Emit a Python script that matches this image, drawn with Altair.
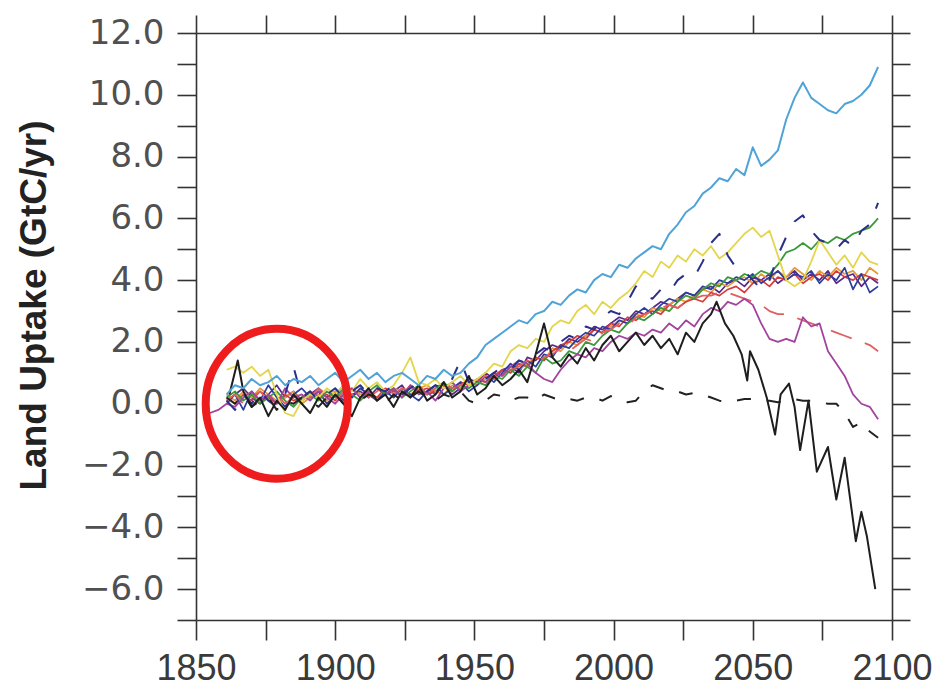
import altair as alt
import pandas as pd

# ---------------- data ----------------
GRID_YEARS = list(range(1861, 2096, 3))  # 79 sample points, 3-year spacing

LIGHT_BLUE = [0.3, 0.6, 0.5, 0.8, 0.6, 0.7, 0.9, 0.6, 0.8, 0.7,
              0.9, 0.6, 0.8, 1.0, 0.7, 0.9, 1.1, 0.8, 1.0, 0.7,
              0.9, 1.0, 0.8, 0.6, 0.9, 0.8, 1.1, 0.9, 1.0, 1.3,
              1.5, 1.9, 2.1, 2.3, 2.5, 2.7, 2.6, 2.9, 3.0, 3.3,
              3.2, 3.5, 3.7, 3.6, 4.0, 4.2, 4.1, 4.5, 4.4, 4.7,
              4.9, 5.1, 5.0, 5.5, 5.8, 6.2, 6.4, 6.8, 7.0, 7.3,
              7.2, 7.6, 7.4, 8.3, 7.7, 7.9, 8.2, 9.2, 9.9, 10.4,
              9.9, 9.7, 9.5, 9.4, 9.7, 9.8, 10.0, 10.3, 10.9]

YELLOW = [1.1, 1.2, 1.0, 1.2, 0.9, 1.1, 0.3, -0.3, -0.4, 0.1,
          0.3, 0.2, 0.5, 0.3, 0.6, 0.4, 0.8, 0.5, 0.7, 0.4,
          0.6, 1.0, 1.5, 0.7, 0.6, 0.8, 0.5, 0.7, 0.9, 0.6,
          0.8, 1.0, 1.3, 1.2, 1.7, 1.9, 1.8, 2.1, 2.0, 2.5,
          2.7, 2.6, 3.0, 3.2, 2.9, 3.3, 3.1, 3.4, 3.6, 3.9,
          4.3, 4.1, 4.6, 4.4, 4.8, 4.6, 5.0, 4.8, 5.1, 4.7,
          4.9, 5.2, 5.5, 5.7, 5.4, 5.6, 4.8, 4.0, 3.8, 4.0,
          4.6, 5.3, 4.9, 4.5, 4.8, 4.4, 4.9, 4.6, 4.5]

GREEN = [0.2, 0.4, 0.1, 0.3, 0.0, 0.2, 0.4, 0.1, -0.1, 0.2,
         0.3, 0.1, 0.4, 0.2, 0.5, 0.3, 0.1, 0.4, 0.6, 0.3,
         0.5, 0.2, 0.4, 0.6, 0.3, 0.5, 0.7, 0.4, 0.6, 0.5,
         0.7, 0.6, 0.9, 0.8, 1.1, 0.9, 1.2, 1.0, 1.5, 1.3,
         1.4, 1.7, 1.6, 2.0, 1.9, 2.2, 2.4, 2.3, 2.6, 2.8,
         2.7, 2.9, 3.1, 3.0, 3.3, 3.5, 3.4, 3.7, 3.9, 3.8,
         4.1, 4.0, 4.2, 4.1, 4.3, 4.2, 4.5, 4.9, 5.0, 5.2,
         5.0, 5.3, 5.2, 5.4, 5.3, 5.5, 5.6, 5.7, 6.0]

NAVY_DASHED = [0.1, -0.2, 0.3, 0.0, 0.4, 0.1, -0.1, 0.3, 1.2, 0.2,
               0.4, 0.1, 0.3, 0.5, 0.2, 0.4, 0.6, 0.3, 0.5, 0.4,
               0.6, 0.3, 0.5, 0.7, 0.4, 0.6, 0.5, 0.8, 1.4, 0.7,
               0.9, 0.8, 1.0, 1.2, 1.1, 1.4, 1.3, 1.6, 1.8, 1.7,
               2.0, 2.2, 2.1, 2.5, 2.4, 2.8, 3.0, 2.9, 3.3, 3.8,
               3.5, 3.4, 3.7, 3.6, 4.0, 4.2, 4.1, 4.6, 5.2, 5.5,
               4.8, 4.4, 4.3, 4.0, 3.7, 4.0, 4.8, 5.4, 5.9, 6.1,
               5.6, 5.3, 5.2, 5.0, 5.3, 5.1, 5.6, 5.8, 6.5]

PURPLE_YEARS = [1855, 1858] + GRID_YEARS
PURPLE = [-0.3, -0.2,
          0.0, -0.1, 0.2, 0.4, 0.1, 0.3, 0.0, 0.5, 0.2, 0.3,
          0.1, 0.4, 0.2, 0.0, 0.3, 0.5, 0.2, 0.4, 0.1, 0.3,
          0.5, 0.2, 0.6, 0.3, 0.4, 0.1, 0.5, 0.7, 0.4, 0.6,
          0.8, 0.7, 1.0, 0.9, 1.2, 1.4, 1.3, 1.0, 0.8, 0.7,
          1.1, 1.4, 1.6, 1.5, 1.8, 1.7, 2.0, 2.2, 2.1, 2.3,
          2.2, 2.4, 2.3, 2.6, 2.4, 2.7, 2.5, 2.9, 3.1, 3.0,
          3.3, 3.2, 3.4, 3.2, 2.6, 2.1, 2.0, 2.1, 2.0, 2.8,
          2.5, 2.6, 1.7, 1.3, 0.9, 0.3, 0.0, -0.1, -0.5]

RED_DASHED = [0.1, 0.3, 0.0, 0.2, 0.4, 0.1, 0.3, 0.0, 0.2, 0.4,
              0.2, 0.5, 0.3, 0.1, 0.4, 0.3, 0.5, 0.2, 0.4, 0.6,
              0.3, 0.5, 0.4, 0.6, 0.3, 0.5, 0.7, 0.5, 0.6, 0.8,
              0.7, 0.9, 0.8, 1.0, 1.1, 1.2, 1.4, 1.3, 1.5, 1.6,
              1.8, 1.7, 1.9, 2.1, 2.0, 2.3, 2.4, 2.6, 2.5, 2.8,
              2.9, 3.0, 3.1, 3.2, 3.1, 3.3, 3.4, 3.5, 3.5, 3.6,
              3.6, 3.5, 3.4, 3.3, 3.2, 3.0, 2.9, 2.9, 2.8, 2.7,
              2.6, 2.5, 2.4, 2.3, 2.2, 2.1, 2.0, 1.9, 1.7]

BLACK_YEARS = [1862, 1865, 1867, 1870, 1873, 1876, 1879, 1882, 1885, 1888,
               1891, 1894, 1897, 1900, 1903, 1906, 1909, 1912, 1915, 1918,
               1921, 1924, 1927, 1930, 1933, 1936, 1939, 1942, 1945, 1948,
               1951, 1954, 1957, 1960, 1963, 1966, 1969, 1972, 1975, 1978,
               1981, 1984, 1987, 1990, 1993, 1996, 1999, 2002, 2005, 2008,
               2011, 2014, 2017, 2020, 2023, 2026, 2029, 2032, 2035, 2037,
               2040, 2043, 2046, 2048, 2049, 2052, 2055, 2058, 2060, 2063,
               2065, 2067, 2070, 2073, 2077, 2080, 2083, 2087, 2089, 2091,
               2094]
BLACK = [0.3, 1.4, 0.4, -0.1, 0.2, -0.4, 0.1, -0.2, 0.3, 0.0,
         -0.3, 0.2, -0.1, 0.3, 0.0, -0.4, 0.2, 0.5, 0.1, 0.3,
         -0.1, 0.4, 0.2, 0.6, 0.1, 0.3, 0.7, 0.2, 0.4, 0.9,
         0.3, 0.5, 0.9, 0.6, 0.8, 1.1, 0.7, 1.6, 2.6, 1.5,
         1.2, 1.6, 1.3, 1.8, 1.4, 1.9, 2.2, 1.7, 2.0, 2.3,
         1.9, 2.2, 1.8, 2.1, 1.6, 2.3, 2.0, 2.6, 2.9, 3.3,
         2.6, 2.2, 1.6, 0.75, 1.7, 1.1, 0.2, -1.0, 0.3, 0.65,
         -0.1, -1.5, 0.1, -2.2, -1.4, -3.1, -1.75, -4.45, -3.5, -4.3,
         -6.0]

BLACK_DASHED = [0.2, 0.0, 0.3, -0.1, 0.1, 0.2, -0.2, 0.1, 0.0, 0.2,
                0.1, -0.1, 0.2, 0.3, 0.0, 0.2, 0.1, 0.3, 0.2, 0.0,
                0.3, 0.1, 0.2, 0.4, 0.2, 0.1, 0.3, 0.2, 0.4, 0.1,
                0.0, 0.1, 0.3, 0.25, 0.1, 0.2, 0.2, 0.1, 0.3, 0.2,
                0.1, 0.15, 0.1, 0.2, 0.2, 0.1, 0.25, 0.1, 0.05, 0.1,
                0.4, 0.6, 0.5, 0.4, 0.4, 0.3, 0.35, 0.3, 0.2, 0.1,
                0.05, 0.1, 0.15, 0.15, 0.1, 0.1, 0.05, 0.1, 0.15, 0.1,
                0.1, 0.05, 0.0, 0.0, -0.3, -0.75, -0.6, -0.9, -1.1]

DARK_BLUE = [0.0, 0.3, -0.2, 0.4, 0.1, 0.6, 0.2, -0.1, 0.3, 0.5,
             0.2, 0.4, 0.0, 0.3, 0.6, 0.2, 0.5, 0.3, 0.1, 0.4,
             0.2, 0.5, 0.3, 0.1, 0.4, 0.6, 0.3, 0.5, 0.7, 0.4,
             0.6, 0.9, 0.7, 1.0, 1.3, 1.1, 1.4, 1.2, 1.6, 1.5,
             1.9, 1.8, 2.1, 2.3, 2.2, 2.5, 2.4, 2.7, 2.6, 2.9,
             3.1, 2.9, 3.2, 3.4, 3.3, 3.6, 3.5, 3.8, 3.7, 4.0,
             3.9, 4.1, 4.0, 4.2, 3.9, 4.1, 4.3, 4.0, 4.2, 4.1,
             4.3, 3.9, 4.2, 4.0, 4.4, 3.7, 4.2, 3.6, 3.8]

RED = [0.2, 0.0, 0.3, 0.1, 0.4, 0.2, 0.0, 0.3, 0.1, 0.2,
       0.4, 0.2, 0.3, 0.1, 0.4, 0.2, 0.5, 0.3, 0.2, 0.5,
       0.4, 0.3, 0.6, 0.4, 0.5, 0.3, 0.6, 0.4, 0.7, 0.6,
       0.8, 0.7, 0.9, 1.1, 1.0, 1.3, 1.2, 1.5, 1.4, 1.7,
       1.9, 2.0, 2.2, 2.1, 2.4, 2.3, 2.6, 2.5, 2.8, 2.7,
       2.9, 3.0, 2.9, 3.2, 3.1, 3.3, 3.4, 3.3, 3.6, 3.5,
       3.7, 3.8, 3.6, 3.9, 4.0, 3.8, 4.1, 4.0, 4.2, 3.9,
       4.1, 4.2, 4.0, 4.3, 4.1, 4.0, 4.2, 4.1, 4.0]

ORANGE = [0.3, 0.1, 0.4, 0.2, 0.5, 0.3, 0.1, 0.2, 0.4, 0.0,
          0.2, 0.3, 0.1, 0.4, 0.2, 0.5, 0.3, 0.4, 0.2, 0.3,
          0.5, 0.4, 0.3, 0.5, 0.6, 0.4, 0.3, 0.6, 0.5, 0.7,
          0.6, 0.8, 1.0, 0.9, 1.2, 1.1, 1.3, 1.5, 1.4, 1.8,
          1.7, 2.0, 1.9, 2.2, 2.4, 2.3, 2.5, 2.7, 2.6, 2.9,
          2.8, 3.1, 3.0, 3.2, 3.4, 3.3, 3.5, 3.7, 3.6, 3.9,
          3.8, 4.0, 4.1, 3.9, 4.2, 4.0, 4.3, 4.1, 4.4, 4.2,
          4.0, 4.3, 4.1, 4.4, 4.2, 4.3, 4.0, 4.4, 4.2]

DARK_PURPLE = [0.1, 0.3, 0.5, 0.2, 0.0, 0.3, 0.6, 0.2, 0.4, 0.1,
               0.3, 0.5, 0.2, 0.4, 0.1, 0.3, 0.4, 0.2, 0.5, 0.3,
               0.4, 0.6, 0.2, 0.5, 0.3, 0.4, 0.6, 0.3, 0.5, 0.8,
               0.7, 1.0, 0.8, 1.1, 1.2, 1.0, 1.5, 1.4, 1.7, 1.9,
               1.8, 2.1, 2.0, 2.2, 2.5, 2.4, 2.6, 2.8, 2.7, 3.0,
               2.9, 3.1, 3.3, 3.2, 3.4, 3.6, 3.5, 3.7, 3.8, 3.6,
               3.9, 4.0, 3.8, 4.1, 4.0, 4.2, 3.9, 4.1, 4.3, 4.0,
               4.2, 4.0, 4.3, 3.9, 4.1, 4.2, 3.8, 4.1, 3.9]

# red circle annotation (centre in data units)
CIRCLE_YEAR = [1879.0]
CIRCLE_VALUE = [0.0]

X_TICKS = [1850, 1875, 1900, 1925, 1950, 1975, 2000, 2025, 2050, 2075, 2100]
Y_TICKS = list(range(-7, 13))
X_DOMAIN = [1850, 2100]
Y_DOMAIN = [-7, 12]

# series: name, years, values, colour, dash, width  (drawing order)
SERIES = [
    ("dark_purple", GRID_YEARS, DARK_PURPLE, "#5b2a86", None, 1.7),
    ("orange", GRID_YEARS, ORANGE, "#e59a35", None, 1.7),
    ("red", GRID_YEARS, RED, "#d63a3a", None, 1.7),
    ("dark_blue", GRID_YEARS, DARK_BLUE, "#2b3d9e", None, 1.7),
    ("green", GRID_YEARS, GREEN, "#3a9a3a", None, 1.8),
    ("red_dashed", GRID_YEARS, RED_DASHED, "#e06060", [22, 14], 1.8),
    ("purple", PURPLE_YEARS, PURPLE, "#a2449e", None, 1.8),
    ("yellow", GRID_YEARS, YELLOW, "#e3d64c", None, 1.8),
    ("navy_dashed", GRID_YEARS, NAVY_DASHED, "#2a2f88", [14, 18], 2.0),
    ("black_dashed", GRID_YEARS, BLACK_DASHED, "#222222", [14, 16], 2.0),
    ("black", BLACK_YEARS, BLACK, "#1e1e1e", None, 2.0),
    ("light_blue", GRID_YEARS, LIGHT_BLUE, "#4fa3d6", None, 2.0),
]

rows = []
for name, yrs, vals, _, _, _ in SERIES:
    for yr, v in zip(yrs, vals):
        rows.append({"series": name, "year": yr, "value": v})
df = pd.DataFrame(rows)

xs = alt.Scale(domain=X_DOMAIN, nice=False, zero=False)
ys = alt.Scale(domain=Y_DOMAIN, nice=False, zero=False)

AX_COLOR = "#333333"

x_bottom = alt.Axis(
    orient="bottom", values=X_TICKS, format="d",
    labelExpr="datum.value % 50 === 0 ? datum.label : ''",
    tickSize=20, tickWidth=1.6, tickColor=AX_COLOR,
    domainColor=AX_COLOR, domainWidth=1.6, grid=False,
    labelFont="Liberation Sans", labelFontSize=36, labelColor="#3a3a3a",
    labelPadding=11, labelFlush=False, labelOverlap=False, title=None,
)
y_left = alt.Axis(
    orient="left", values=Y_TICKS,
    labelExpr="datum.value % 2 === 0 ? format(datum.value, '.1f') : ''",
    tickSize=19, tickWidth=1.6, tickColor=AX_COLOR,
    domainColor=AX_COLOR, domainWidth=1.6, grid=False,
    labelFont="DejaVu Sans", labelFontSize=34, labelColor="#505050",
    labelPadding=13, labelOverlap=False, labelFlush=False,
    title="Land Uptake (GtC/yr)", titleFont="Liberation Sans",
    titleFontSize=37, titleFontWeight="bold", titleColor="#222222",
    titleX=-151, titleY=272, titleAngle=270, titleBaseline="alphabetic",
    titleAlign="center",
)
x_top = alt.Axis(
    orient="top", values=X_TICKS, labels=False, tickSize=18, tickWidth=1.6,
    tickColor=AX_COLOR, domainColor=AX_COLOR, domainWidth=1.6, grid=False,
    title=None,
)
y_right = alt.Axis(
    orient="right", values=Y_TICKS, labels=False, tickSize=18, tickWidth=1.6,
    tickColor=AX_COLOR, domainColor=AX_COLOR, domainWidth=1.6, grid=False,
    title=None,
)

layers = []
for i, (name, _, _, color, dash, width) in enumerate(SERIES):
    mark_kwargs = dict(color=color, strokeWidth=width, strokeJoin="round")
    if dash:
        mark_kwargs["strokeDash"] = dash
    if i == 0:
        enc = dict(x=alt.X("year:Q", scale=xs, axis=x_bottom),
                   y=alt.Y("value:Q", scale=ys, axis=y_left))
    else:
        enc = dict(x=alt.X("year:Q", scale=xs, axis=None),
                   y=alt.Y("value:Q", scale=ys, axis=None))
    layers.append(
        alt.Chart(df).transform_filter(alt.datum.series == name)
        .mark_line(**mark_kwargs).encode(**enc)
    )

circle_df = pd.DataFrame({"year": CIRCLE_YEAR, "value": CIRCLE_VALUE})
ellipse = "M-0.947,0A0.947,1,0,1,0,0.947,0A0.947,1,0,1,0,-0.947,0Z"
circle = alt.Chart(circle_df).mark_point(
    shape=ellipse, size=22500, filled=False, stroke="#ee1c1c",
    strokeWidth=8, opacity=1,
).encode(
    x=alt.X("year:Q", scale=xs, axis=x_top),
    y=alt.Y("value:Q", scale=ys, axis=y_right),
)
layers.append(circle)

chart = alt.layer(*layers).resolve_axis(
    x="independent", y="independent"
).properties(
    width=696, height=587,
    autosize=alt.AutoSizeParams(type="none"),
    padding={"left": 188, "top": 25, "right": 42, "bottom": 72},
    background="white",
).configure_view(stroke=None)

chart.save("out.html", embed_options={"renderer": "svg", "actions": False})
